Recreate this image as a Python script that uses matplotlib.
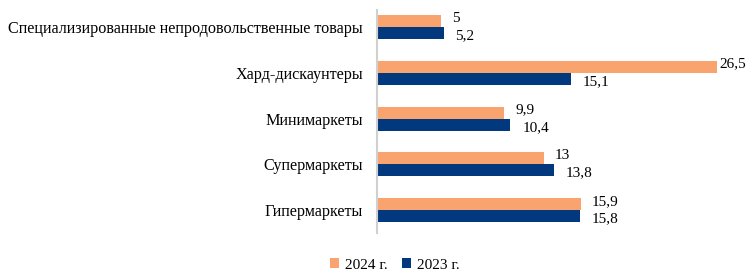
import matplotlib.pyplot as plt
import numpy as np

plt.rcParams['font.family'] = ['Liberation Serif', 'DejaVu Serif']

categories = ['Гипермаркеты', 'Супермаркеты', 'Минимаркеты', 'Хард-дискаунтеры',
              'Специализированные непродовольственные товары']
v2024 = [15.9, 13, 9.9, 26.5, 5]
v2023 = [15.8, 13.8, 10.4, 15.1, 5.2]
series_names = ['2024 г.', '2023 г.']

c_orange = '#F9A46E'
c_blue = '#02397E'

fig = plt.figure(figsize=(7.56, 2.73), dpi=100)
ax = fig.add_axes([377 / 756, (273 - 233) / 273, 372 / 756, 222.8 / 273])

y = np.arange(len(categories))
h = 0.26
b1 = ax.barh(y + h / 2, v2024, height=h, color=c_orange, label=series_names[0])
b2 = ax.barh(y - h / 2, v2023, height=h, color=c_blue, label=series_names[1])

def fmt(v):
    return ('%g' % v).replace('.', ',')

# longest bar: label squeezed against the right edge
for yi, v in zip(y, v2024):
    dx = 2 if v > 25 else 8
    ax.annotate(fmt(v), (v, yi + h / 2), xytext=(dx, 2), textcoords='offset points',
                va='center', ha='left', fontsize=11, annotation_clip=False)
for yi, v in zip(y, v2023):
    ax.annotate(fmt(v), (v, yi - h / 2), xytext=(8.5, -2), textcoords='offset points',
                va='center', ha='left', fontsize=11, annotation_clip=False)

ax.set_xlim(0, 29)
ax.set_ylim(-0.5, 4.37)
ax.set_yticks(y)
ax.set_yticklabels(categories, fontsize=11.6)
ax.tick_params(axis='y', length=0, pad=10)
ax.set_xticks([])
for s in ['top', 'right', 'bottom']:
    ax.spines[s].set_visible(False)
ax.spines['left'].set_color('#D0D0D0')
ax.spines['left'].set_linewidth(1.5)

fig.legend(handles=[b1, b2], loc='center', bbox_to_anchor=(395 / 756, 1 - 265 / 273),
           ncol=2, frameon=False, fontsize=11, handlelength=0.6, handleheight=0.6,
           handletextpad=0.4, columnspacing=0.9)

fig.savefig('out.png', dpi=100)
